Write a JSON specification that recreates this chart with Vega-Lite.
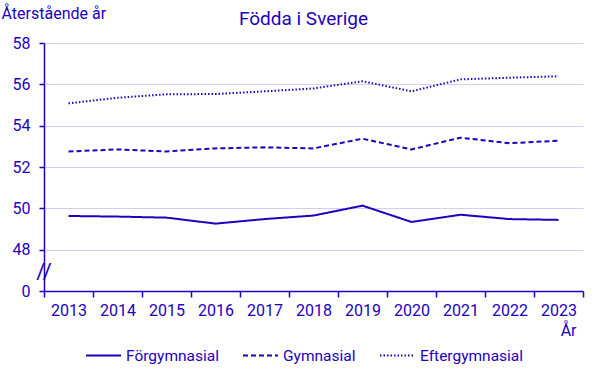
{
  "$schema": "https://vega.github.io/schema/vega-lite/v6.json",
  "autosize": {"type": "none"},
  "width": 539,
  "height": 248,
  "padding": {"left": 44, "top": 43, "right": 22, "bottom": 87},
  "background": "white",
  "config": {"font": "Roboto", "view": {"stroke": null}},
  "title": {"text": "Födda i Sverige", "fontSize": 19, "fontWeight": "normal", "color": "#1E00BE", "anchor": "middle", "dx": -10, "offset": -24},
  "data": {"values": [
    {"year": "2013", "level": "Förgymnasial", "value": 49.63},
    {"year": "2014", "level": "Förgymnasial", "value": 49.6},
    {"year": "2015", "level": "Förgymnasial", "value": 49.55},
    {"year": "2016", "level": "Förgymnasial", "value": 49.26},
    {"year": "2017", "level": "Förgymnasial", "value": 49.48},
    {"year": "2018", "level": "Förgymnasial", "value": 49.65},
    {"year": "2019", "level": "Förgymnasial", "value": 50.13},
    {"year": "2020", "level": "Förgymnasial", "value": 49.34},
    {"year": "2021", "level": "Förgymnasial", "value": 49.69},
    {"year": "2022", "level": "Förgymnasial", "value": 49.48},
    {"year": "2023", "level": "Förgymnasial", "value": 49.44},
    {"year": "2013", "level": "Gymnasial", "value": 52.75},
    {"year": "2014", "level": "Gymnasial", "value": 52.85},
    {"year": "2015", "level": "Gymnasial", "value": 52.75},
    {"year": "2016", "level": "Gymnasial", "value": 52.9},
    {"year": "2017", "level": "Gymnasial", "value": 52.95},
    {"year": "2018", "level": "Gymnasial", "value": 52.9},
    {"year": "2019", "level": "Gymnasial", "value": 53.37},
    {"year": "2020", "level": "Gymnasial", "value": 52.85},
    {"year": "2021", "level": "Gymnasial", "value": 53.42},
    {"year": "2022", "level": "Gymnasial", "value": 53.15},
    {"year": "2023", "level": "Gymnasial", "value": 53.27},
    {"year": "2013", "level": "Eftergymnasial", "value": 55.08},
    {"year": "2014", "level": "Eftergymnasial", "value": 55.35},
    {"year": "2015", "level": "Eftergymnasial", "value": 55.52},
    {"year": "2016", "level": "Eftergymnasial", "value": 55.53},
    {"year": "2017", "level": "Eftergymnasial", "value": 55.66},
    {"year": "2018", "level": "Eftergymnasial", "value": 55.8},
    {"year": "2019", "level": "Eftergymnasial", "value": 56.15},
    {"year": "2020", "level": "Eftergymnasial", "value": 55.66},
    {"year": "2021", "level": "Eftergymnasial", "value": 56.24},
    {"year": "2022", "level": "Eftergymnasial", "value": 56.32},
    {"year": "2023", "level": "Eftergymnasial", "value": 56.39}
  ]},
  "layer": [
    {
      "mark": {"type": "line", "strokeWidth": 2, "color": "#1E00BE"},
      "encoding": {
        "x": {"field": "year", "type": "ordinal",
          "scale": {"type": "band", "paddingInner": 0, "paddingOuter": 0},
          "axis": {"labelAngle": 0, "tickBand": "extent", "domainColor": "#1E00BE", "domainWidth": 1.5, "tickColor": "#1E00BE", "tickWidth": 1.5, "tickSize": 6, "labelColor": "#1E00BE", "labelFontSize": 16, "labelPadding": 5,
            "title": "År", "titleFontSize": 16, "titleFontWeight": "normal", "titleColor": "#1E00BE", "titleAnchor": "end", "titleAlign": "right", "titleX": 532, "titleY": 44, "titleBaseline": "alphabetic", "grid": false}},
        "y": {"field": "value", "type": "quantitative",
          "scale": {"domain": [46, 58], "zero": false, "nice": false},
          "axis": {"values": [46, 48, 50, 52, 54, 56, 58], "labelExpr": "datum.value == 46 ? '0' : datum.label",
            "grid": true, "gridColor": "#D2CFF5", "domainColor": "#1E00BE", "domainWidth": 1.5, "tickColor": "#1E00BE", "tickWidth": 1.5, "tickSize": 5, "labelColor": "#1E00BE", "labelFontSize": 16, "labelPadding": 9,
            "title": "Återstående år", "titleAngle": 0, "titleX": -43, "titleY": -25, "titleAlign": "left", "titleBaseline": "alphabetic", "titleFontSize": 16, "titleFontWeight": "normal", "titleColor": "#1E00BE"}},
        "strokeDash": {"field": "level", "type": "nominal",
          "scale": {"domain": ["Förgymnasial", "Gymnasial", "Eftergymnasial"], "range": [[1, 0], [5, 3], [1.5, 2]]},
          "legend": {"orient": "none", "legendX": 41, "legendY": 294, "direction": "horizontal", "title": null, "symbolType": "stroke", "symbolSize": 1225, "symbolStrokeWidth": 2, "symbolStrokeColor": "#1E00BE", "labelFontSize": 15.5, "labelColor": "#1E00BE", "columnPadding": 20, "labelOffset": 4}}
      }
    },
    {
      "data": {"values": [{"v": 46.9}]},
      "mark": {"type": "text", "text": "//", "fontSize": 22, "color": "#1E00BE"},
      "encoding": {"y": {"field": "v", "type": "quantitative"}, "x": {"value": 0}}
    }
  ]
}
